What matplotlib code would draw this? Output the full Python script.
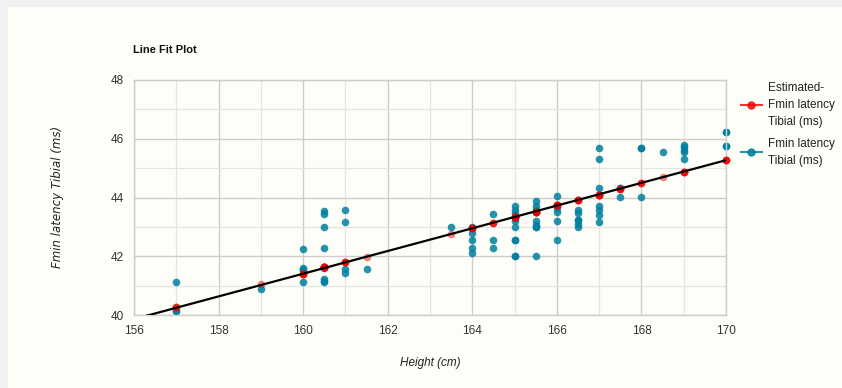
import matplotlib
matplotlib.use("Agg")
import matplotlib.pyplot as plt
from matplotlib.lines import Line2D
from matplotlib.patches import Rectangle
from matplotlib.ticker import MultipleLocator
import numpy as np

# observed data (one entry per subject)
heights = [157, 157, 157,
           159,
           160, 160, 160, 160, 160,
           160.5, 160.5, 160.5, 160.5, 160.5, 160.5, 160.5, 160.5, 160.5, 160.5,
           161, 161, 161, 161,
           161.5,
           163.5,
           164, 164, 164, 164, 164,
           164.5, 164.5, 164.5,
           165, 165, 165, 165, 165, 165, 165, 165, 165, 165,
           165.5, 165.5, 165.5, 165.5, 165.5, 165.5, 165.5, 165.5,
           166, 166, 166, 166, 166, 166,
           166.5, 166.5, 166.5, 166.5, 166.5, 166.5,
           167, 167, 167, 167, 167, 167, 167,
           167.5, 167.5, 167.5,
           168, 168, 168,
           168.5,
           169, 169, 169, 169, 169,
           170, 170, 170, 170]
latency = [41.11, 40.15, 40.12,
           40.88,
           42.23, 41.59, 41.53, 41.53, 41.11,
           43.55, 43.44, 42.98, 42.29, 41.65, 41.62, 41.60, 41.22, 41.15, 41.11,
           43.57, 43.18, 41.56, 41.43,
           41.56,
           42.98,
           42.98, 42.79, 42.56, 42.28, 42.11,
           43.45, 42.56, 42.28,
           43.70, 43.58, 43.47, 43.30, 43.21, 42.98, 42.56, 42.56, 42.02, 42.02,
           43.89, 43.70, 43.58, 43.21, 43.07, 43.00, 43.00, 42.02,
           44.04, 43.76, 43.64, 43.49, 43.19, 42.56,
           43.58, 43.47, 43.24, 43.24, 43.10, 42.98,
           45.67, 45.32, 44.32, 43.70, 43.56, 43.41, 43.16,
           44.32, 44.32, 44.02,
           45.67, 45.67, 44.02,
           45.55,
           45.79, 45.71, 45.63, 45.55, 45.32,
           46.22, 46.22, 45.76, 45.76]

# estimated (fitted) value per height
est_heights = [157, 159, 160, 160.5, 161, 161.5, 163.5, 164, 164.5, 165,
               165.5, 166, 166.5, 167, 167.5, 168, 168.5, 169, 170]
est_values = [40.28, 41.05, 41.40, 41.62, 41.80, 41.99, 42.75, 42.96, 43.14, 43.33,
              43.52, 43.73, 43.92, 44.10, 44.29, 44.50, 44.69, 44.88, 45.27]

trend_x = [156, 170]
trend_y = [39.86, 45.27]

title = "Line Fit Plot"
xlabel = "Height (cm)"
ylabel = "Fmin latency Tibial (ms)"
label_est = "Estimated-\nFmin latency\nTibial (ms)"
label_obs = "Fmin latency\nTibial (ms)"

card = "#fdfef8"
teal = "#00809e"
red = "#f00000"
narrow = ["Liberation Sans", "DejaVu Sans"]


def main():
    fig = plt.figure(figsize=(8.42, 3.88), dpi=100)
    fig.patch.set_facecolor("#f1f1f1")
    fig.add_artist(Rectangle((8 / 842, 0), 1, 1 - 7 / 388, transform=fig.transFigure,
                             facecolor=card, edgecolor="none", zorder=0))

    ax = fig.add_axes([134 / 842, 73 / 388, 592 / 842, 235 / 388])
    ax.set_facecolor(card)

    est_lookup = dict(zip(est_heights, est_values))
    est_per_obs = [est_lookup[h] for h in heights]

    ax.plot(trend_x, trend_y, color="black", lw=1.6, zorder=4, solid_capstyle="butt")
    ax.scatter(heights, est_per_obs, s=30, color=red, alpha=0.5, lw=0, zorder=3,
               clip_on=False)
    ax.scatter(heights, latency, s=30, color=teal, alpha=0.85, lw=0, zorder=2,
               clip_on=False)

    ax.set_xlim(156, 170)
    ax.set_ylim(40, 48)
    ax.xaxis.set_major_locator(MultipleLocator(2))
    ax.xaxis.set_minor_locator(MultipleLocator(1))
    ax.yaxis.set_major_locator(MultipleLocator(2))
    ax.yaxis.set_minor_locator(MultipleLocator(1))
    ax.grid(which="major", color="#cdcdcd", lw=1.0)
    ax.grid(which="minor", color="#e4e4e4", lw=0.9)
    ax.set_axisbelow(True)
    for s in ax.spines.values():
        s.set_color("#cdcdcd")
        s.set_linewidth(1.0)
    ax.tick_params(which="both", length=0, labelsize=8.5, colors="#333333", pad=7)
    for lbl in ax.get_xticklabels() + ax.get_yticklabels():
        lbl.set_family(narrow)

    fig.text(133 / 842, 1 - 50 / 388, title, fontsize=8, fontweight="bold",
             family=narrow, va="center", ha="left", color="#111111")
    fig.text(430 / 842, 1 - 363 / 388, xlabel, fontsize=8.5, style="italic",
             family=narrow, ha="center", va="center", color="#222222")
    fig.text(58 / 842, 1 - 197 / 388, ylabel, fontsize=8.5, style="italic",
             rotation=90, ha="center", va="center", color="#222222")

    handles = [Line2D([], [], color=red, marker="o", ms=5, lw=1.5, alpha=0.8),
               Line2D([], [], color=teal, marker="o", ms=5, lw=1.5, alpha=0.85)]
    leg = fig.legend(handles, [label_est, label_obs], loc="upper left",
                     bbox_to_anchor=(730 / 842, 1 - 71 / 388), frameon=False,
                     prop={"family": narrow, "size": 8.5}, handlelength=1.8,
                     handletextpad=0.5, labelspacing=0.85)
    for t in leg.get_texts():
        t.set_linespacing(1.55)
        t.set_color("#222222")

    fig.savefig("out.png", dpi=100, facecolor=fig.get_facecolor())
    plt.close(fig)


if __name__ == "__main__":
    main()
